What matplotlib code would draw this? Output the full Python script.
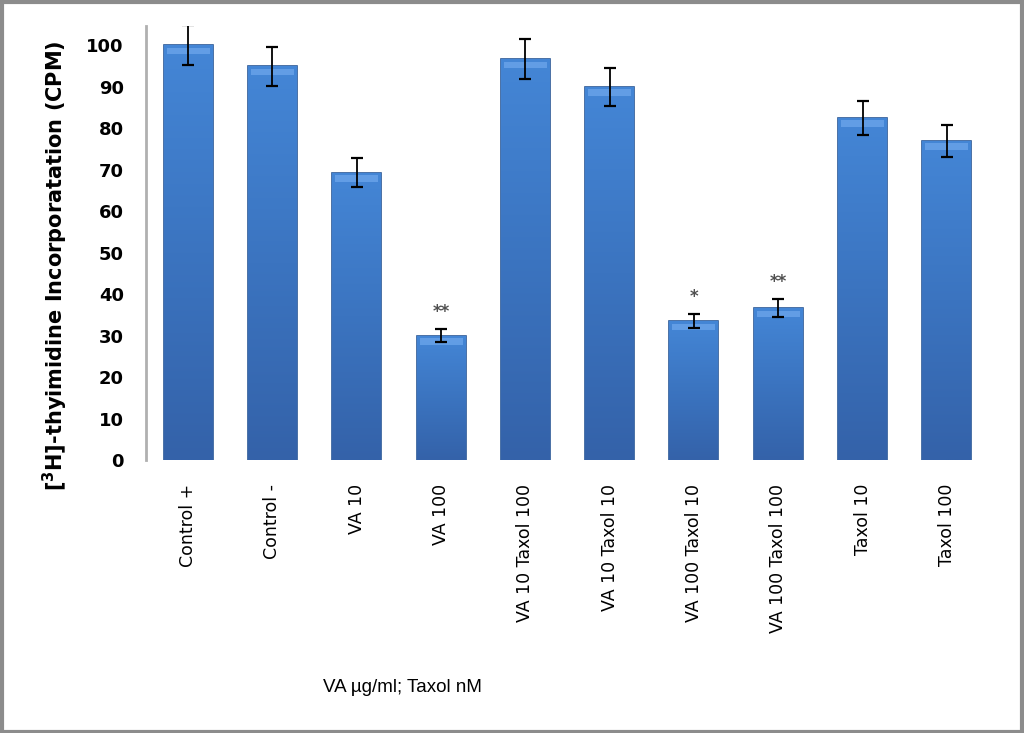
import numpy as np
import matplotlib.pyplot as plt
from matplotlib.colors import LinearSegmentedColormap
from matplotlib.patches import Rectangle

# data
groups = ["Control +", "Control -", "VA 10", "VA 100", "VA 10 Taxol 100",
          "VA 10 Taxol 10", "VA 100 Taxol 10", "VA 100 Taxol 100",
          "Taxol 10", "Taxol 100"]
cpm = [100.0, 94.9, 69.2, 30.0, 96.6, 90.0, 33.5, 36.6, 82.5, 76.9]
err = [4.8, 4.7, 3.5, 1.5, 4.8, 4.6, 1.7, 2.1, 4.1, 3.8]
stars = ["", "", "", "**", "", "", "*", "**", "", ""]

fig = plt.figure(figsize=(10.24, 7.33), dpi=100)
ax = fig.add_axes([0.1426, 0.3724, 0.8232, 0.5921])

x = np.arange(len(groups))
bars = ax.bar(x, cpm, width=0.58, color="#3d78c6", edgecolor="#2a5796",
              linewidth=1.2, zorder=2)

# vertical gradient inside each bar, lighter at the top
cmap = LinearSegmentedColormap.from_list("barblue", ["#3462a9", "#3b74c0", "#4486d6"])
grad = np.linspace(0, 1, 256).reshape(-1, 1)
for b in bars:
    x0, w, h = b.get_x(), b.get_width(), b.get_height()
    im = ax.imshow(grad, cmap=cmap, origin="lower", aspect="auto",
                   extent=[x0, x0 + w, 0, h], zorder=2.1)
    im.set_clip_path(b)
    # shiny band at the top
    ax.add_patch(Rectangle((x0 + w * 0.06, h - 2.2), w * 0.88, 1.6,
                           facecolor="#6aa4ea", edgecolor="none", alpha=0.8, zorder=2.2))

ax.errorbar(x, cpm, yerr=err, fmt="none", ecolor="black", elinewidth=1.3,
            capsize=4, capthick=1.6, zorder=3)

for xi, v, e, s in zip(x, cpm, err, stars):
    if s:
        ax.text(xi, v + e + 2.0, s, ha="center", va="bottom", fontsize=12,
                color="#505050", fontweight="bold")

ax.set_xlim(-0.5, len(groups) - 0.5)
ax.set_ylim(0, 104.6)
ax.set_yticks(range(0, 101, 10))
ax.set_xticks(x)
ax.set_xticklabels(groups, rotation=90, fontsize=12.5, va="top")
ax.tick_params(axis="x", length=0, pad=17)
ax.tick_params(axis="y", length=0, pad=16, labelsize=13)
for lab in ax.get_yticklabels():
    lab.set_fontweight("bold")

for side in ["top", "right", "bottom"]:
    ax.spines[side].set_visible(False)
ax.spines["left"].set_color("#b0b0b0")
ax.spines["left"].set_linewidth(2)

ax.set_ylabel(r"[$^{\mathbf{3}}$H]-thyimidine Incorporatation (CPM)", fontsize=15,
              fontweight="bold")
ax.yaxis.set_label_coords(-0.0906, 0.447)

fig.text(402 / 1024, 1 - 687 / 733, "VA µg/ml; Taxol nM", ha="center", va="center",
         fontsize=13.5, family="Liberation Sans")

# outer frame of the picture
fig.patches.append(Rectangle((0.002, 0.002), 0.996, 0.995, transform=fig.transFigure,
                             fill=False, edgecolor="#8c8c8c", linewidth=3))

plt.savefig("out.png", dpi=100)
